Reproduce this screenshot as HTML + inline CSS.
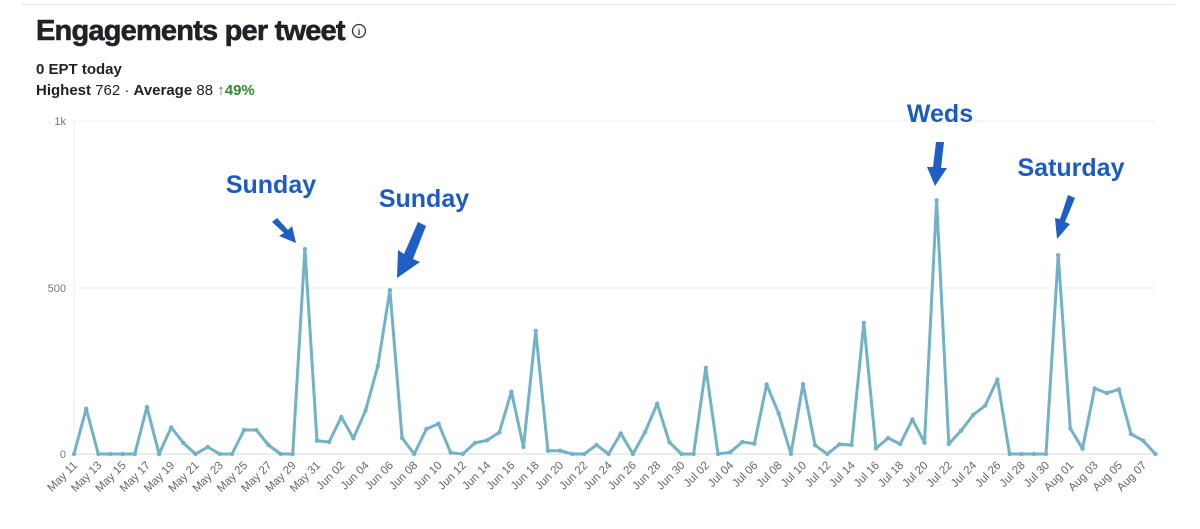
<!DOCTYPE html>
<html><head><meta charset="utf-8"><style>
body{margin:0;background:#fff;width:1200px;height:529px;overflow:hidden;font-family:"Liberation Sans",sans-serif}
svg{position:absolute;left:0;top:0}
</style></head><body>
<svg id="s" width="1200" height="529" xmlns="http://www.w3.org/2000/svg">
<line x1="22" y1="4.5" x2="1175" y2="4.5" stroke="#e6e6e6"/>
<text x="36" y="40" font-size="29" font-weight="bold" fill="#1f2328" letter-spacing="-0.8" stroke="#1f2328" stroke-width="0.6">Engagements per tweet</text>
<circle cx="359" cy="31" r="6.5" fill="none" stroke="#333" stroke-width="1.3"/>
<text x="359" y="35" font-size="9" font-weight="bold" text-anchor="middle" fill="#333">i</text>
<text x="36" y="74" font-size="15" font-weight="bold" fill="#222">0 EPT today</text>
<text x="36" y="95" font-size="15" fill="#222"><tspan font-weight="bold">Highest</tspan> 762 · <tspan font-weight="bold">Average</tspan> 88 <tspan fill="#2e8b2e" font-weight="bold">↑49%</tspan></text>
<g stroke="#ececec" stroke-width="1">
<line x1="74" y1="121" x2="1155" y2="121"/><line x1="74" y1="288" x2="1155" y2="288"/></g>
<line x1="74" y1="454" x2="1155" y2="454" stroke="#d8d8d8"/>
<line x1="74" y1="121" x2="74" y2="454" stroke="#ececec"/>
<g font-size="11" fill="#777" text-anchor="end">
<text x="66" y="125">1k</text><text x="66" y="292">500</text><text x="66" y="458">0</text></g>
<g id="lab" font-size="11.5" fill="#666" text-anchor="end"></g>
<polyline id="ln" fill="none" stroke="#72b2c6" stroke-width="3" stroke-linejoin="round" stroke-linecap="round"/>
<g id="dots" fill="#72b2c6"></g>
<g font-size="25" font-weight="bold" fill="#1c5cc2" text-anchor="middle">
<text x="271" y="193">Sunday</text>
<text x="424" y="207">Sunday</text>
<text x="940" y="122">Weds</text>
<text x="1071" y="176">Saturday</text></g>
<g fill="#1f5fc4">
<polygon points="272,222 277,218 288,230 292,226 296,243 279,236 284,233"/>
<polygon points="426,226 418,222 404,254 398,250 397,278 420,262 413,259"/>
<polygon points="936,142 944,142 941,168 947,168 935,186 927,167 933,167"/>
<polygon points="1068,195 1075,198 1065,222 1070,224 1057,239 1055,218 1060,219"/>
</g>
</svg>
<script>
var v=[0,136,0,0,0,0,141,0,80,33,0,21,0,0,72,72,27,0,0,615,40,36,111,47,131,264,492,48,0,75,91,4,0,33,41,65,187,21,370,10,10,0,0,27,0,62,0,66,151,35,0,0,259,0,5,36,31,209,122,0,210,26,0,29,27,394,17,48,30,104,34,762,30,70,117,146,224,0,0,0,0,597,77,16,197,183,194,60,40,0];
var pts=[],d='',L='';
var mon=['May','Jun','Jul','Aug'],md=[31,30,31,31];
for(var i=0;i<v.length;i++){var x=74+12.15*i,y=454-v[i]*0.333;pts.push(x.toFixed(1)+','+y.toFixed(1));
d+='<circle cx="'+x.toFixed(1)+'" cy="'+y.toFixed(1)+'" r="2.2"/>';
if(i%2==0){var day=11+i,m=0;while(day>md[m]){day-=md[m];m++;}
var t=mon[m]+' '+(day<10?'0'+day:day);
L+='<text transform="translate('+(x+4).toFixed(1)+',466) rotate(-45)">'+t+'</text>';}}
document.getElementById('ln').setAttribute('points',pts.join(' '));
document.getElementById('dots').innerHTML=d;
document.getElementById('lab').innerHTML=L;
</script>
</body></html>
